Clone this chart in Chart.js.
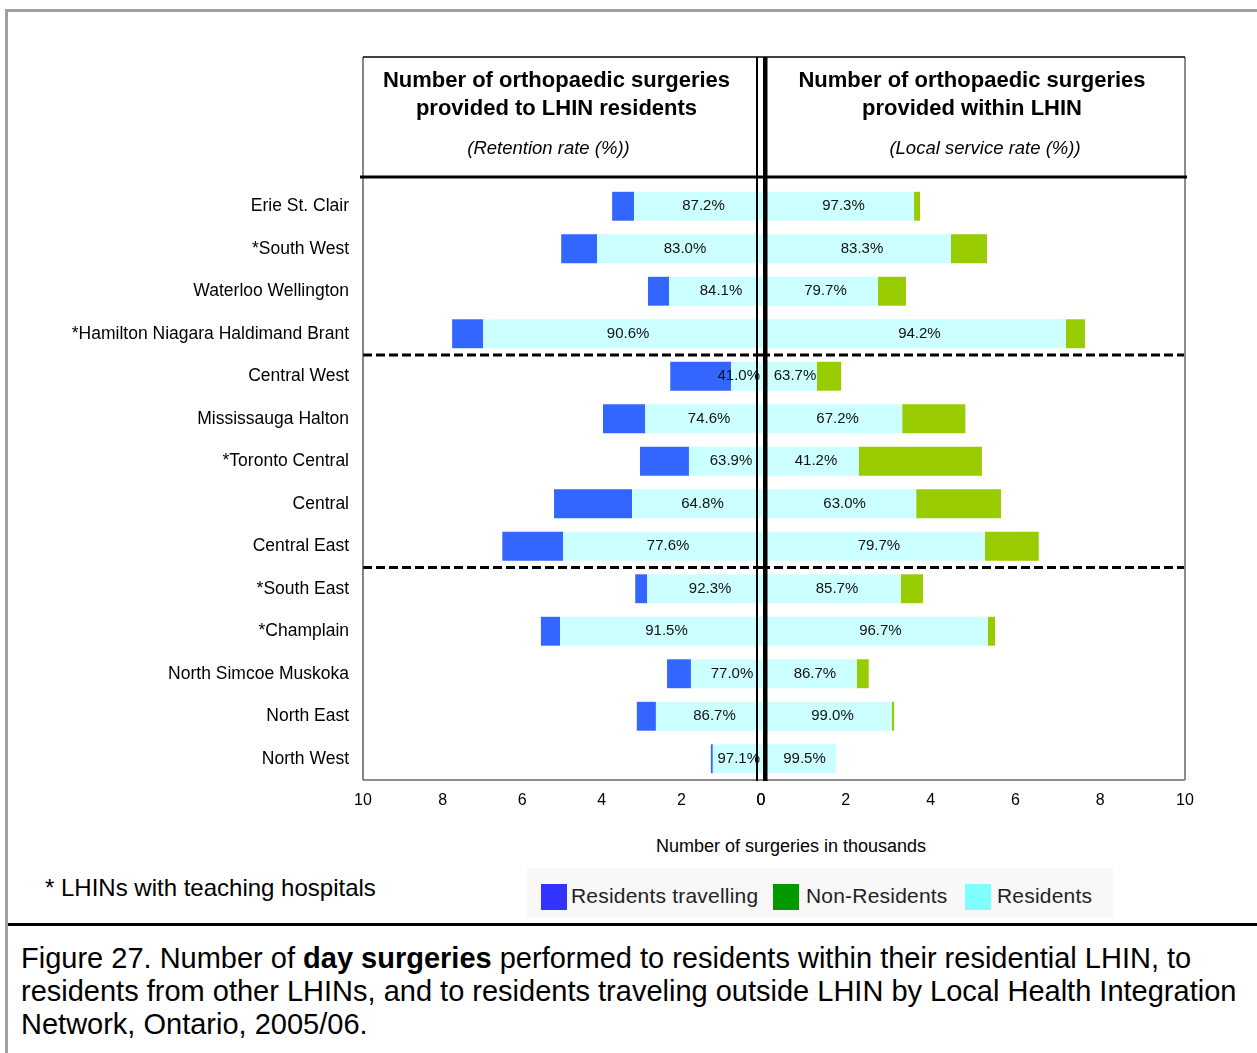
<!DOCTYPE html>
<html>
<head>
<meta charset="utf-8">
<script src="https://cdn.jsdelivr.net/npm/chart.js@4.4.1/dist/chart.umd.min.js"></script>
<style>
  body { margin: 0; background: #fff; font-family: "Liberation Sans", Arial, sans-serif; }
  #wrap { position: relative; width: 1257px; height: 1053px; overflow: hidden; background: #fff; }
  canvas { position: absolute; left: 0; top: 0; }
  .frame { position: absolute; left: 5px; top: 9px; width: 1300px; height: 1100px; border: 3px solid #a0a0a0; }
  .rule { position: absolute; left: 8px; top: 923px; width: 1260px; height: 3px; background: #000; }
  .xtitle { position: absolute; left: 591px; width: 400px; top: 836px; text-align: center; font-size: 18px; color: #000; }
  .note { position: absolute; left: 45px; top: 874px; font-size: 24px; color: #000; }
  .legend { position: absolute; left: 527px; top: 868px; width: 586px; height: 50px; background: #f8f8f8; }
  .legend span { position: absolute; top: 16px; width: 26px; height: 26px; }
  .legend b { position: absolute; top: 16px; font-weight: normal; font-size: 21px; color: #222; letter-spacing: 0.2px; }
  .caption { position: absolute; left: 21px; top: 942px; font-size: 29px; line-height: 33px; color: #000; white-space: nowrap; }
</style>
</head>
<body>
<div id="wrap">
  <div class="frame"></div>
  <canvas id="leftChart" width="1257" height="830" style="width:1257px;height:830px"></canvas>
  <canvas id="rightChart" width="1257" height="830" style="width:1257px;height:830px"></canvas>
  <div class="xtitle">Number of surgeries in thousands</div>
  <div class="note">* LHINs with teaching hospitals</div>
  <div class="legend">
    <span style="left:14px;background:#3333ff"></span><b style="left:44px">Residents travelling</b>
    <span style="left:246px;background:#009900"></span><b style="left:279px">Non-Residents</b>
    <span style="left:438px;background:#80ffff"></span><b style="left:470px">Residents</b>
  </div>
  <div class="rule"></div>
  <div class="caption">Figure 27. Number of <b>day surgeries</b> performed to residents within their residential LHIN, to<br>residents from other LHINs, and to residents traveling outside LHIN by Local Health Integration<br>Network, Ontario, 2005/06.</div>
</div>
<script>
// LHINs (top to bottom)
const lhins = ['Erie St. Clair', '*South West', 'Waterloo Wellington', '*Hamilton Niagara Haldimand Brant',
  'Central West', 'Mississauga Halton', '*Toronto Central', 'Central', 'Central East',
  '*South East', '*Champlain', 'North Simcoe Muskoka', 'North East', 'North West'];

// left panel: surgeries provided to LHIN residents (thousands)
const residentsLeft = [3.19, 4.12, 2.31, 6.98, 0.75, 2.91, 1.81, 3.24, 4.97, 2.86, 5.05, 1.76, 2.64, 1.21];
const travelling = [0.55, 0.90, 0.53, 0.78, 1.53, 1.06, 1.23, 1.96, 1.53, 0.30, 0.48, 0.60, 0.48, 0.05];
const retentionRate = ['87.2%', '83.0%', '84.1%', '90.6%', '41.0%', '74.6%', '63.9%', '64.8%', '77.6%', '92.3%', '91.5%', '77.0%', '86.7%', '97.1%'];

// right panel: surgeries provided within LHIN (thousands)
const residentsRight = [3.61, 4.48, 2.76, 7.19, 1.32, 3.33, 2.31, 3.66, 5.28, 3.30, 5.35, 2.26, 3.09, 1.77];
const nonResidents = [0.14, 0.85, 0.66, 0.45, 0.57, 1.49, 2.90, 2.00, 1.27, 0.52, 0.17, 0.28, 0.05, 0];
const localServiceRate = ['97.3%', '83.3%', '79.7%', '94.2%', '63.7%', '67.2%', '41.2%', '63.0%', '79.7%', '85.7%', '96.7%', '86.7%', '99.0%', '99.5%'];

const axisMax = 10;
const axisStep = 2;
// rows after which a dashed separator is drawn
const groupBreaks = [3, 8];

const headerLeft = ['Number of orthopaedic surgeries', 'provided to LHIN residents', '(Retention rate (%))'];
const headerRight = ['Number of orthopaedic surgeries', 'provided within LHIN', '(Local service rate (%))'];

Chart.defaults.font.family = '"Liberation Sans", Arial, sans-serif';
Chart.defaults.color = '#000';

const HEAD_TOP = 57, HEAD_BOTTOM = 177;
let leftChart = null;

// percentage labels centred in the residents bar (both halves drawn on the top canvas)
function drawRates(ctx, chart, rates, side) {
  const meta = chart.getDatasetMeta(0);
  const zero = chart.scales.x.getPixelForValue(0);
  ctx.save();
  ctx.font = '15px "Liberation Sans", Arial, sans-serif';
  ctx.fillStyle = '#111';
  ctx.textAlign = 'center';
  ctx.textBaseline = 'middle';
  meta.data.forEach((bar, i) => {
    let cx = (bar.x + bar.base) / 2 + 6;
    const w = ctx.measureText(rates[i]).width;
    if (side === 'left') cx = Math.min(cx, zero - w / 2 - 1);
    ctx.fillText(rates[i], cx, bar.y);
  });
  ctx.restore();
}

// frame, header and separators for each half
const panelDecor = {
  id: 'panelDecor',
  afterDatasetsDraw(chart) {
    if (chart.options.plugins.panelDecor.side !== 'right') return;
    drawRates(chart.ctx, chart, localServiceRate, 'right');
    if (leftChart) drawRates(chart.ctx, leftChart, retentionRate, 'left');
  },
  afterDraw(chart) {
    const ctx = chart.ctx;
    const a = chart.chartArea;
    const x = chart.scales.x, y = chart.scales.y;
    const side = chart.options.plugins.panelDecor.side;
    const zero = x.getPixelForValue(0);
    const outer = x.getPixelForValue(axisMax);
    const head = side === 'left' ? headerLeft : headerRight;
    ctx.save();

    // dashed separators between LHIN groups
    ctx.strokeStyle = '#000';
    ctx.lineWidth = 3;
    ctx.setLineDash([9, 4]);
    groupBreaks.forEach(k => {
      const yy = (y.getPixelForValue(k) + y.getPixelForValue(k + 1)) / 2;
      ctx.beginPath();
      if (side === 'left') { ctx.moveTo(outer, yy); ctx.lineTo(zero, yy); }
      else { ctx.moveTo(zero, yy); ctx.lineTo(outer + 5, yy); }
      ctx.stroke();
    });
    ctx.setLineDash([]);

    // outer frame pieces
    ctx.lineWidth = 2;
    ctx.strokeStyle = '#8c8c8c';
    ctx.beginPath();
    ctx.moveTo(outer, a.bottom); ctx.lineTo(zero, a.bottom);
    ctx.stroke();
    ctx.lineWidth = side === 'left' ? 1.2 : 2;
    ctx.strokeStyle = side === 'left' ? '#333' : '#8c8c8c';
    ctx.beginPath();
    ctx.moveTo(outer, HEAD_TOP); ctx.lineTo(outer, a.bottom);
    ctx.stroke();
    ctx.strokeStyle = '#000';
    ctx.lineWidth = 1.5;
    ctx.beginPath();
    ctx.moveTo(outer, HEAD_TOP); ctx.lineTo(zero, HEAD_TOP);
    ctx.stroke();
    ctx.lineWidth = 3;
    ctx.beginPath();
    ctx.moveTo(side === 'left' ? outer - 3 : zero, HEAD_BOTTOM);
    ctx.lineTo(side === 'left' ? zero : outer + 2, HEAD_BOTTOM);
    ctx.stroke();

    // header text
    const cx = side === 'left' ? (outer + zero - 5) / 2 - 3 : (zero + 4 + outer) / 2 - 3;
    ctx.fillStyle = '#000';
    ctx.textAlign = 'center';
    ctx.textBaseline = 'middle';
    ctx.font = 'bold 22px "Liberation Sans", Arial, sans-serif';
    ctx.fillText(head[0], cx, 81);
    ctx.fillText(head[1], cx, 109);
    ctx.font = 'italic 18.5px "Liberation Sans", Arial, sans-serif';
    ctx.fillText(head[2], cx + (side === 'left' ? -8 : 13), 149);

    // double centre line (drawn by the top canvas)
    if (side === 'right') {
      ctx.fillStyle = '#000';
      ctx.fillRect(zero - 5, HEAD_TOP, 2, a.bottom - HEAD_TOP + 1);
      ctx.fillRect(zero + 2, HEAD_TOP, 4.5, a.bottom - HEAD_TOP + 1);
    }
    ctx.restore();
  }
};

function xAxis(reverse) {
  return {
    stacked: true, reverse: reverse, min: 0, max: axisMax,
    ticks: { stepSize: axisStep, color: '#000', font: { size: 16 }, padding: 11, maxRotation: 0 },
    grid: { display: false, drawTicks: false },
    border: { display: false },
    afterFit(s) { s.height = 40; }
  };
}

leftChart = new Chart(document.getElementById('leftChart'), {
  type: 'bar',
  data: {
    labels: lhins,
    datasets: [
      { label: 'Residents', data: residentsLeft, backgroundColor: '#ccffff' },
      { label: 'Residents travelling', data: travelling, backgroundColor: '#3366ff' }
    ]
  },
  options: {
    indexAxis: 'y', responsive: false, animation: false,
    layout: { padding: { left: 0, right: 496, top: 185, bottom: 10 } },
    datasets: { bar: { barPercentage: 0.68, categoryPercentage: 1 } },
    plugins: { legend: { display: false }, tooltip: { enabled: false }, panelDecor: { side: 'left' } },
    scales: {
      x: xAxis(true),
      y: {
        stacked: true,
        ticks: { color: '#000', font: { size: 17.5 }, padding: 14, autoSkip: false },
        grid: { display: false, drawTicks: false },
        border: { display: false },
        afterFit(s) { s.width = 363; }
      }
    }
  },
  plugins: [panelDecor]
});

new Chart(document.getElementById('rightChart'), {
  type: 'bar',
  data: {
    labels: lhins,
    datasets: [
      { label: 'Residents', data: residentsRight, backgroundColor: '#ccffff' },
      { label: 'Non-Residents', data: nonResidents, backgroundColor: '#99cc00' }
    ]
  },
  options: {
    indexAxis: 'y', responsive: false, animation: false,
    layout: { padding: { left: 761, right: 72, top: 185, bottom: 10 } },
    datasets: { bar: { barPercentage: 0.68, categoryPercentage: 1 } },
    plugins: { legend: { display: false }, tooltip: { enabled: false }, panelDecor: { side: 'right' } },
    scales: {
      x: xAxis(false),
      y: { stacked: true, display: false }
    }
  },
  plugins: [panelDecor]
});
</script>
</body>
</html>
